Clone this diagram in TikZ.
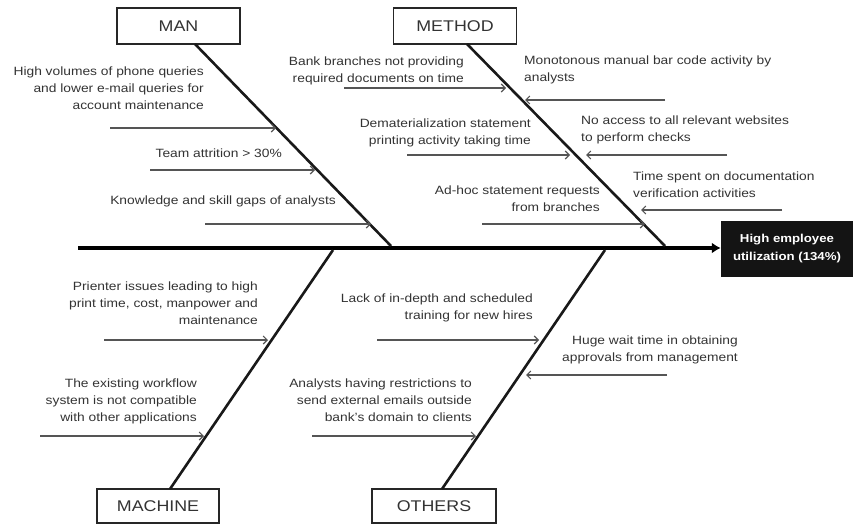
\documentclass[tikz,border=0pt]{standalone}
\usepackage{fontspec}
\setmainfont[FakeStretch=1.15]{Liberation Sans}
\usetikzlibrary{arrows.meta}
\definecolor{txt}{HTML}{333333}
\definecolor{sub}{HTML}{555555}
\begin{document}
\begin{tikzpicture}[x=1pt,y=-1pt,
 cat/.style={draw=black!85, line width=1.8pt, fill=white, minimum width=123pt, minimum height=36pt, font=\fontsize{15.5}{18}\selectfont, text=txt, inner sep=0pt},
 lbl/.style={inner sep=0pt, font=\fontsize{12}{17}\selectfont, text=txt},
 lblR/.style={lbl, align=right, anchor=north east},
 lblL/.style={lbl, align=left, anchor=north west},
 bone/.style={line width=2.6pt, black!90},
 cause/.style={draw=sub, line width=1.1pt, -{Straight Barb[length=4pt,width=8pt]}},
]
\useasboundingbox (0,0) rectangle (856,525);

% category boxes
\node[cat] (man) at (178.5,26) {MAN};
\node[cat] (method) at (455,26) {METHOD};
\node[cat, minimum width=122pt, minimum height=34pt] (machine) at (158,506) {MACHINE};
\node[cat, minimum width=124pt, minimum height=34pt] (others) at (434,506) {OTHERS};

% effect
\node[fill=black!92, minimum width=132pt, minimum height=56pt, inner sep=0pt, text=white,
      font=\bfseries\fontsize{11.5}{18}\selectfont, align=center] (effect) at (787,249)
      {High employee\\utilization (134\%)};

% spine
\coordinate (spinestart) at (78,248);
\draw[line width=4.5pt, -{Latex[length=9pt,width=11pt]}] (spinestart) -- (spinestart -| effect.west);

% bones
\coordinate (mantop) at (195,44);
\coordinate (jman) at (391,246);
\coordinate (methodtop) at (467,44);
\coordinate (jmethod) at (665,246);
\coordinate (machinebot) at (170,489);
\coordinate (jmachine) at (333,250);
\coordinate (othersbot) at (442,489);
\coordinate (jothers) at (605,250);
\draw[bone] (mantop) -- (jman);
\draw[bone] (methodtop) -- (jmethod);
\draw[bone] (machinebot) -- (jmachine);
\draw[bone] (othersbot) -- (jothers);

% MAN causes
\node[lblR] (t1) at (204,67) {High volumes of phone queries\\and lower e-mail queries for\\account maintenance};
\coordinate (a1s) at (110,128); \coordinate (a1e) at (276,128);
\draw[cause] (a1s) -- (a1e);
\node[lblR] (t2) at (282,149) {Team attrition > 30\%};
\coordinate (a2s) at (150,170); \coordinate (a2e) at (315,170);
\draw[cause] (a2s) -- (a2e);
\node[lblR] (t3) at (336,196) {Knowledge and skill gaps of analysts};
\coordinate (a3s) at (205,224); \coordinate (a3e) at (371,224);
\draw[cause] (a3s) -- (a3e);

% METHOD causes, left
\node[lblR] (t4) at (464,57) {Bank branches not providing\\required documents on time};
\coordinate (a4s) at (344,88); \coordinate (a4e) at (506,88);
\draw[cause] (a4s) -- (a4e);
\node[lblR] (t5) at (531,119) {Dematerialization statement\\printing activity taking time};
\coordinate (a5s) at (407,155); \coordinate (a5e) at (570,155);
\draw[cause] (a5s) -- (a5e);
\node[lblR] (t6) at (600,186) {Ad-hoc statement requests\\from branches};
\coordinate (a6s) at (482,224); \coordinate (a6e) at (645,224);
\draw[cause] (a6s) -- (a6e);

% METHOD causes, right
\node[lblL] (t7) at (524,56) {Monotonous manual bar code activity by\\analysts};
\coordinate (a7s) at (665,100); \coordinate (a7e) at (525,100);
\draw[cause] (a7s) -- (a7e);
\node[lblL] (t8) at (581,116) {No access to all relevant websites\\to perform checks};
\coordinate (a8s) at (727,155); \coordinate (a8e) at (586,155);
\draw[cause] (a8s) -- (a8e);
\node[lblL] (t9) at (633,172) {Time spent on documentation\\verification activities};
\coordinate (a9s) at (782,210); \coordinate (a9e) at (641,210);
\draw[cause] (a9s) -- (a9e);

% MACHINE causes
\node[lblR] (t10) at (258,282) {Prienter issues leading to high\\print time, cost, manpower and\\maintenance};
\coordinate (a10s) at (104,340); \coordinate (a10e) at (268,340);
\draw[cause] (a10s) -- (a10e);
\node[lblR] (t11) at (197,379) {The existing workflow\\system is not compatible\\with other applications};
\coordinate (a11s) at (40,436); \coordinate (a11e) at (204,436);
\draw[cause] (a11s) -- (a11e);

% OTHERS causes
\node[lblR] (t12) at (533,294) {Lack of in-depth and scheduled\\training for new hires};
\coordinate (a12s) at (377,340); \coordinate (a12e) at (539,340);
\draw[cause] (a12s) -- (a12e);
\node[lblR] (t13) at (472,379) {Analysts having restrictions to\\send external emails outside\\bank's domain to clients};
\coordinate (a13s) at (312,436); \coordinate (a13e) at (476,436);
\draw[cause] (a13s) -- (a13e);
\node[lblR] (t14) at (738,336) {Huge wait time in obtaining\\approvals from management};
\coordinate (a14s) at (667,375); \coordinate (a14e) at (526,375);
\draw[cause] (a14s) -- (a14e);
\end{tikzpicture}
\end{document}
